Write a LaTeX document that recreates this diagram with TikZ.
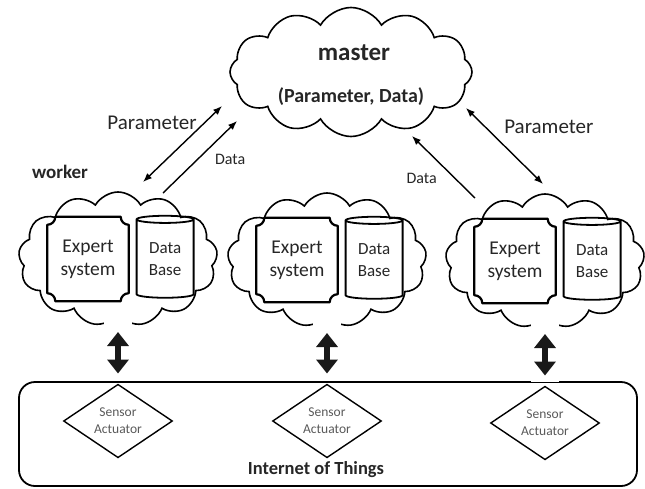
\documentclass[tikz,border=0pt]{standalone}
\usepackage{fontspec}
\setmainfont{Carlito}
\usetikzlibrary{shapes.symbols,shapes.geometric,arrows.meta,positioning}
\tikzset{
  cloudy/.style={cloud,draw,line width=1.6pt,cloud puffs=13,cloud puff arc=120,cloud ignores aspect,inner sep=0pt},
  worker/.style={cloudy,minimum width=199pt,minimum height=134pt},
  master/.style={cloudy,cloud puffs=12,minimum width=242pt,minimum height=129pt},
  expert/.style={minimum width=81pt,minimum height=84pt,align=center,inner sep=0pt,font=\fontsize{19.5}{23}\selectfont},
  expertline/.style={line width=2.2pt,line join=round},
  database/.style={cylinder,shape border rotate=90,aspect=0.22,draw,line width=1.8pt,minimum width=57pt,minimum height=82pt,align=center,inner sep=0pt,font=\fontsize{17}{22}\selectfont},
  device/.style={diamond,draw,line width=1.4pt,minimum width=109pt,minimum height=62pt,inner sep=0pt,align=center,text=black!65,font=\fontsize{13.5}{17}\selectfont},
  iotbox/.style={draw,line width=1.8pt,rounded corners=16pt,minimum width=618pt,minimum height=104pt},
  link/.style={line width=1.4pt,{Latex[length=9pt,width=7pt]}-{Latex[length=9pt,width=7pt]}},
  datalink/.style={line width=1.4pt,-{Latex[length=9pt,width=7pt]}},
  bus/.style={line width=6.5pt,black!90,{Triangle[length=14pt,width=21pt]}-{Triangle[length=14pt,width=21pt]}},
  bigtext/.style={font=\fontsize{21}{25}\selectfont},
  smalltext/.style={font=\fontsize{16}{19}\selectfont},
  boldtext/.style={font=\bfseries\fontsize{19}{23}\selectfont}
}

\begin{document}
\begin{tikzpicture}[x=1pt,y=1pt,every node/.append style={text=black!85}]
  \useasboundingbox (0,0) rectangle (645,-488);

  \node [master] (m) at (351,-72) {};
  \node [font=\bfseries\fontsize{25}{30}\selectfont] (mtitle) at ([shift={(3,19)}]m.center) {master};
  \node [font=\bfseries\fontsize{20}{24}\selectfont] (mdata) at ([shift={(0,-25)}]m.center) {(Parameter, Data)};

  \node [worker] (w1) at (118,-259) {};
  \node [worker] (w2) at (327,-260) {};
  \node [worker] (w3) at (545,-261) {};
  \node [boldtext] (wlabel) at (60,-172) {worker};

  \node [expert] (e1) at ([xshift=-30pt]w1.center) {Expert\\system};
  \node [expert] (e2) at ([xshift=-30pt]w2.center) {Expert\\system};
  \node [expert] (e3) at ([xshift=-30pt]w3.center) {Expert\\system};
  \node [database] (c1) [right=7pt of e1] {Data\\Base};
  \node [database] (c2) [right=7pt of e2] {Data\\Base};
  \node [database] (c3) [right=7pt of e3] {Data\\Base};

  \node [iotbox] (iot) at (328,-434) {};
  \node [device] (d1) at (118,-421) {Sensor\\Actuator};
  \node [device] (d2) at (327,-421) {Sensor\\Actuator};
  \node [device] (d3) at (545,-423) {Sensor\\Actuator};
  \node [boldtext,font=\bfseries\fontsize{18.5}{22}\selectfont] (iotlabel) at (316,-470) {Internet of Things};

  \foreach \n in {e1,e2,e3}
    \draw [expertline] ([xshift=8pt]\n.north west) -- ([xshift=-8pt]\n.north east)
      arc [start angle=180,end angle=270,radius=8pt] -- ([yshift=8pt]\n.south east)
      arc [start angle=90,end angle=180,radius=8pt] -- ([xshift=8pt]\n.south west)
      arc [start angle=0,end angle=90,radius=8pt] -- ([yshift=-8pt]\n.north west)
      arc [start angle=270,end angle=360,radius=8pt] -- cycle;

  \foreach \i in {1,2,3} {
    \fill [white] ([shift={(-14,-47)}]w\i.center) rectangle ([shift={(14,4)}]d\i.north);
    \draw [bus] ([yshift=-73pt]w\i.center) -- ([yshift=10pt]d\i.north);
  }

  \draw [link] ([shift={(25,77)}]w1.center) to node [pos=0.78,left=4pt,bigtext] {Parameter} ([shift={(-129,-34)}]m.center);
  \draw [datalink] ([shift={(45,66)}]w1.center) to node [pos=0.46,right=14pt,smalltext] {Data} ([shift={(-114,-49)}]m.center);
  \draw [datalink] ([shift={(-70,63)}]w3.center) to node [pos=0.32,left=14pt,smalltext] {Data} ([shift={(61,-64)}]m.center);
  \draw [link] ([shift={(115,-36)}]m.center) to node [pos=0.25,right=15pt,bigtext] {Parameter} ([shift={(-2,77)}]w3.center);
\end{tikzpicture}
\end{document}
